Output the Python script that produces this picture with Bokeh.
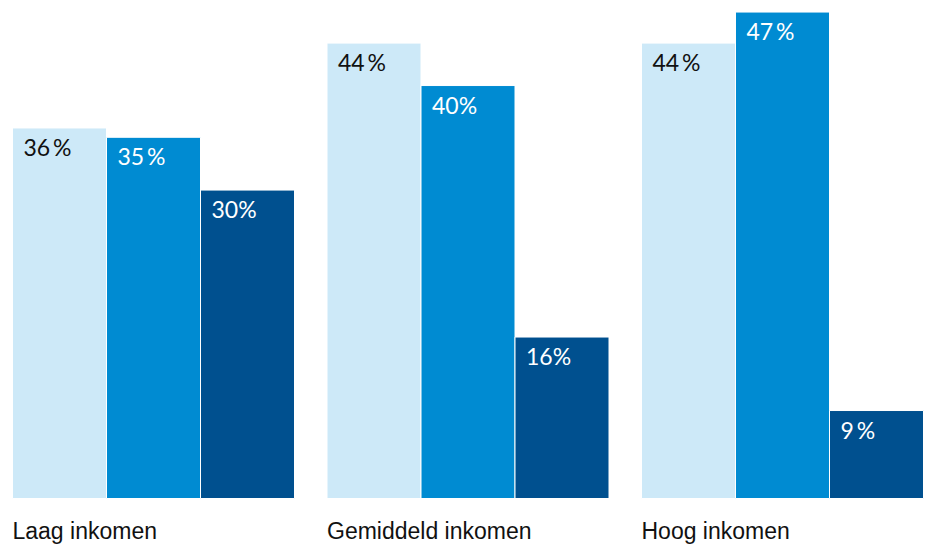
from bokeh.plotting import figure
from bokeh.models import Range1d, ColumnDataSource
from bokeh.core.properties import value
from bokeh.embed import file_html
from bokeh.resources import INLINE

# ---- data ----
groups = ["Laag inkomen", "Gemiddeld inkomen", "Hoog inkomen"]
series_1 = [35.8, 44.0, 44.0]   # light blue
series_2 = [34.9, 39.9, 47.0]   # mid blue
series_3 = [29.8, 15.6, 8.5]    # dark blue
labels_1 = ["36\u2009%", "44\u2009%", "44\u2009%"]
labels_2 = ["35\u2009%", "40%", "47\u2009%"]
labels_3 = ["30%", "16%", "9\u2009%"]

colors = ["#cde9f8", "#008bd2", "#00508f"]
text_colors = ["#111111", "#ffffff", "#ffffff"]

W, H = 930, 546
px_per_unit = 10.35
base_px = 498
y_start = -(H - base_px) / px_per_unit
y_end = base_px / px_per_unit

p = figure(width=W, height=H, output_backend="svg", toolbar_location=None,
           x_range=Range1d(0, W), y_range=Range1d(y_start, y_end),
           min_border=0, min_border_left=0, min_border_right=0,
           min_border_top=0, min_border_bottom=0)
p.axis.visible = False
p.grid.visible = False
p.outline_line_color = None
p.background_fill_color = "white"
p.border_fill_color = "white"

group_left0 = 12
group_step = 314.5
bar_w = 94

series = [series_1, series_2, series_3]
labels = [labels_1, labels_2, labels_3]

for i, (vals, labs) in enumerate(zip(series, labels)):
    lefts = [group_left0 + g * group_step + i * bar_w for g in range(len(groups))]
    centers = [l + bar_w / 2 for l in lefts]
    src = ColumnDataSource(dict(x=centers, left=lefts, top=vals, lab=labs))
    p.vbar(x="x", width=bar_w, top="top", bottom=0, source=src,
           fill_color=colors[i], line_color="white", line_width=1)
    p.text(x="left", y="top", text="lab", source=src, x_offset=11, y_offset=5,
           text_baseline="top", text_align="left", text_color=text_colors[i],
           text_font=value("Lato"), text_font_size="23px")

cat_src = ColumnDataSource(dict(
    x=[group_left0 + g * group_step for g in range(len(groups))],
    y=[(base_px - 517) / px_per_unit] * len(groups),
    t=groups))
p.text(x="x", y="y", text="t", source=cat_src, text_baseline="top",
       text_align="left", text_color="#111111",
       text_font=value("Liberation Sans"), text_font_size="23px")

open("out.html", "w").write(file_html(p, INLINE))
